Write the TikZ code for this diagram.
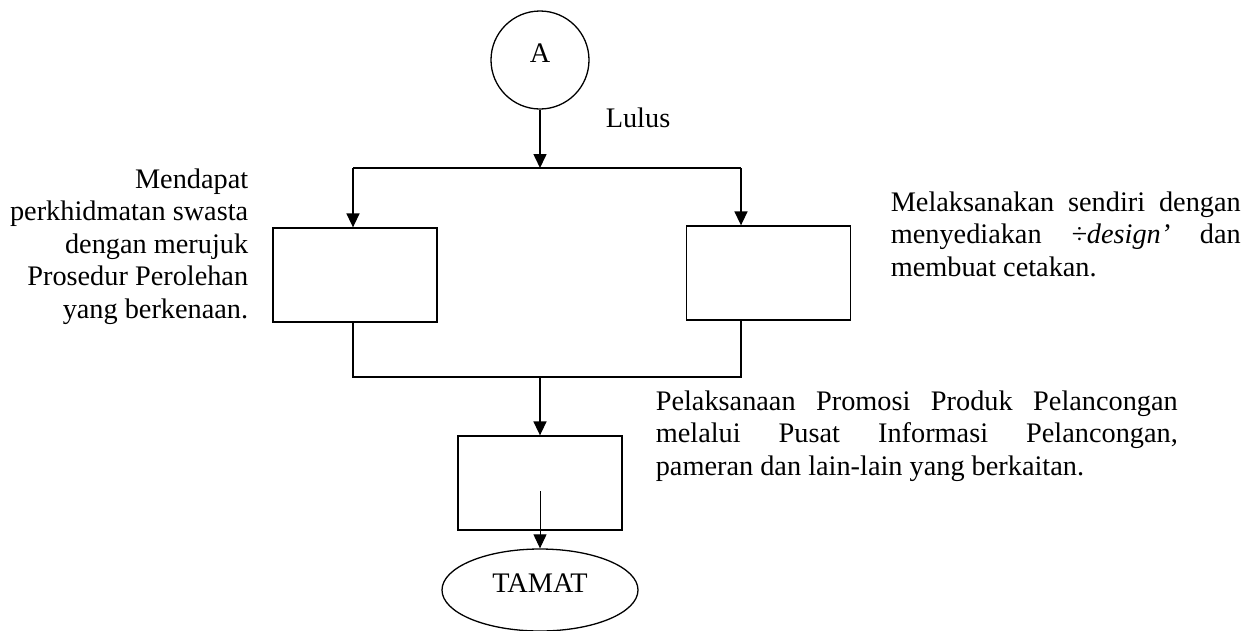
\documentclass[tikz,border=0pt]{standalone}
\usepackage{fontspec}
\setmainfont{Liberation Serif}
\usetikzlibrary{arrows.meta, shapes.geometric}

\begin{document}
\begin{tikzpicture}[
            x = 1pt, y = -1pt, % one unit per pixel, y going down
            > = {Triangle[width=13pt, length=14pt]}, % arrow head style
            line width = 1.6pt, % line style
            font = \fontsize{28.3}{32.5}\selectfont
        ]

        \tikzstyle{box}=[
            draw = black,
            line width = 1.3pt,
            rectangle,
            minimum width = 164pt,
            minimum height = 94pt
        ]
        \tikzstyle{note}=[inner sep = 0pt]

        \useasboundingbox (0,0) rectangle (1245,630);

        \node[circle, draw, line width = 1.3pt, minimum size = 98pt, inner sep = 0pt, text depth = 13pt] (v1) at (540,60) {A};
        \node[box] (v2) at (355,275) {};
        \node[box] (v3) at (768.5,273) {};
        \node[box] (v4) at (540,483) {};
        \node[ellipse, draw, line width = 1.3pt, minimum width = 196pt, minimum height = 82pt, inner sep = 0pt, text depth = 14pt] (v5) at (540,590) {TAMAT};

        \node[note, anchor = base west] (t0) at (605,127) {Lulus};
        \node[note, anchor = north east, align = right] (t1) at (249,168) {Mendapat\\ perkhidmatan swasta\\ dengan merujuk\\ Prosedur Perolehan\\ yang berkenaan.};
        \node[note, anchor = north west, text width = 350pt, align = justify] (t2) at (890,191) {Melaksanakan sendiri dengan\linebreak menyediakan \textit{÷design’} dan\linebreak membuat cetakan.};
        \node[note, anchor = north west, text width = 522pt, align = justify] (t3) at (655,390) {Pelaksanaan Promosi Produk Pelancongan\linebreak melalui Pusat Informasi Pelancongan,\linebreak pameran dan lain-lain yang berkaitan.};

        \coordinate (c1) at (353,168);
        \coordinate (c2) at (741,168);
        \coordinate (c3) at (353,377);
        \coordinate (c4) at (741,377);

        \draw[->] (v1) -- (v1 |- c1);
        \draw (c1) -- (c2);
        \draw[->] (c1) -- (c1 |- v2.north);
        \draw[->] (c2) -- (c2 |- v3.north);
        \draw (c1 |- v2.south) -- (c3) -- (c4) -- (c2 |- v3.south);
        \draw[->] (v4 |- c3) -- (v4);
        \draw[->, line width = 1pt] ([yshift = -8pt]v4.center) -- (v5);
    \end{tikzpicture}
\end{document}
